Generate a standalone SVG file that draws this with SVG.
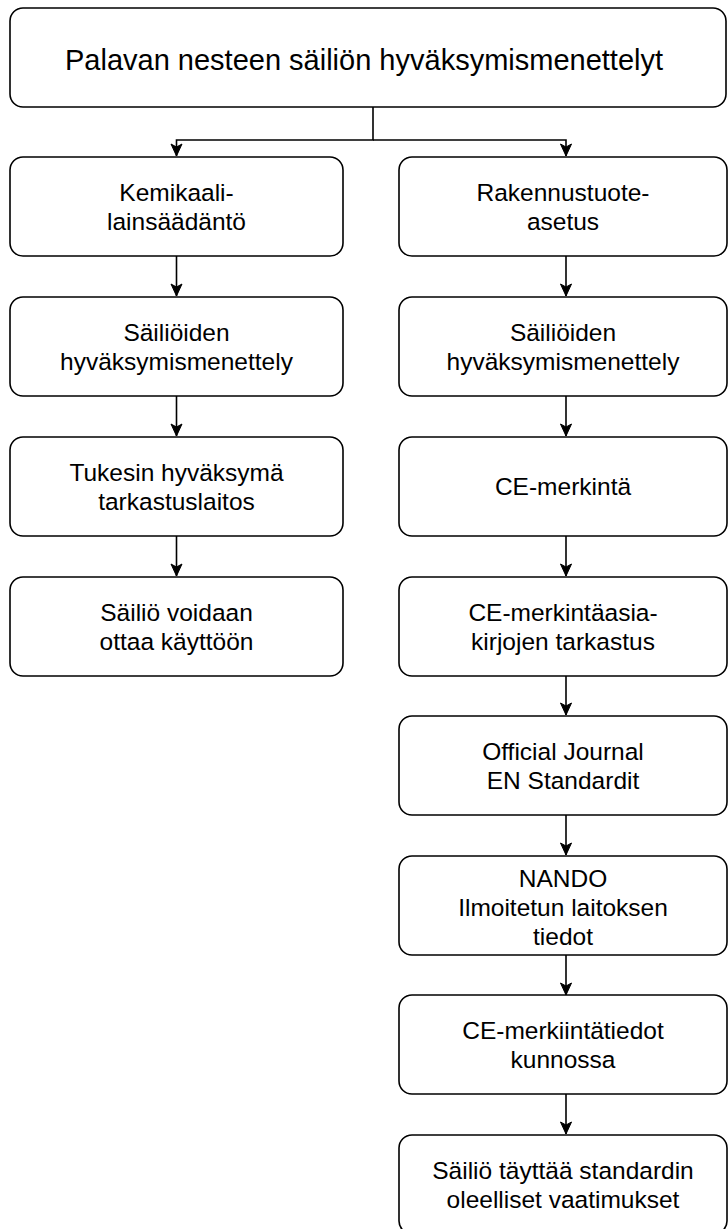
<svg xmlns="http://www.w3.org/2000/svg" width="728" height="1229" viewBox="0 0 728 1229">
<style>
.box{fill:#fff;stroke:#000;stroke-width:1.6}
.t{font-family:"Liberation Sans",Arial,sans-serif;font-size:24.5px;fill:#000;text-anchor:middle}
.title{font-size:29px}
.c{fill:none;stroke:#000;stroke-width:1.6}
</style>
<defs>
<marker id="ah" markerWidth="14" markerHeight="14" viewBox="0 0 14 14" refX="13" refY="7" orient="auto" markerUnits="userSpaceOnUse">
<path d="M1,1.5 L13,7 L1,12.5 L4,7 Z" fill="#000" stroke="#000" stroke-width="1"/>
</marker>
</defs>
<rect width="728" height="1229" fill="#fff"/>
<g id="connectors">
<path class="c" d="M373,107 V140 H176.5 V156" marker-end="url(#ah)"/>
<path class="c" d="M373,140 H566 V156" marker-end="url(#ah)"/>
<path class="c" d="M176.5,256 V296" marker-end="url(#ah)"/>
<path class="c" d="M176.5,396 V436" marker-end="url(#ah)"/>
<path class="c" d="M176.5,536 V576" marker-end="url(#ah)"/>
<path class="c" d="M566,256 V296" marker-end="url(#ah)"/>
<path class="c" d="M566,396 V436" marker-end="url(#ah)"/>
<path class="c" d="M566,536 V576" marker-end="url(#ah)"/>
<path class="c" d="M566,676 V715" marker-end="url(#ah)"/>
<path class="c" d="M566,815 V855" marker-end="url(#ah)"/>
<path class="c" d="M566,955 V995" marker-end="url(#ah)"/>
<path class="c" d="M566,1094 V1134" marker-end="url(#ah)"/>
</g>
<g id="n0"><rect class="box" x="10" y="8" width="716" height="99" rx="13"/><text class="t title" x="364" y="70">Palavan nesteen säiliön hyväksymismenettelyt</text></g>
<g id="l1"><rect class="box" x="10" y="157" width="333" height="99" rx="13"/><text class="t" x="176.5" y="201">Kemikaali-</text><text class="t" x="176.5" y="230">lainsäädäntö</text></g>
<g id="l2"><rect class="box" x="10" y="297" width="333" height="99" rx="13"/><text class="t" x="176.5" y="341">Säiliöiden</text><text class="t" x="176.5" y="370">hyväksymismenettely</text></g>
<g id="l3"><rect class="box" x="10" y="437" width="333" height="99" rx="13"/><text class="t" x="176.5" y="481">Tukesin hyväksymä</text><text class="t" x="176.5" y="510">tarkastuslaitos</text></g>
<g id="l4"><rect class="box" x="10" y="577" width="333" height="99" rx="13"/><text class="t" x="176.5" y="621">Säiliö voidaan</text><text class="t" x="176.5" y="650">ottaa käyttöön</text></g>
<g id="r1"><rect class="box" x="399" y="157" width="328" height="99" rx="13"/><text class="t" x="563" y="201">Rakennustuote-</text><text class="t" x="563" y="230">asetus</text></g>
<g id="r2"><rect class="box" x="399" y="297" width="328" height="99" rx="13"/><text class="t" x="563" y="341">Säiliöiden</text><text class="t" x="563" y="370">hyväksymismenettely</text></g>
<g id="r3"><rect class="box" x="399" y="437" width="328" height="99" rx="13"/><text class="t" x="563" y="495">CE-merkintä</text></g>
<g id="r4"><rect class="box" x="399" y="577" width="328" height="99" rx="13"/><text class="t" x="563" y="621">CE-merkintäasia-</text><text class="t" x="563" y="650">kirjojen tarkastus</text></g>
<g id="r5"><rect class="box" x="399" y="716" width="328" height="99" rx="13"/><text class="t" x="563" y="760">Official Journal</text><text class="t" x="563" y="789">EN Standardit</text></g>
<g id="r6"><rect class="box" x="399" y="856" width="328" height="99" rx="13"/><text class="t" x="563" y="887">NANDO</text><text class="t" x="563" y="916">Ilmoitetun laitoksen</text><text class="t" x="563" y="945">tiedot</text></g>
<g id="r7"><rect class="box" x="399" y="995" width="328" height="99" rx="13"/><text class="t" x="563" y="1039">CE-merkiintätiedot</text><text class="t" x="563" y="1068">kunnossa</text></g>
<g id="r8"><rect class="box" x="399" y="1135" width="328" height="99" rx="13"/><text class="t" x="563" y="1179">Säiliö täyttää standardin</text><text class="t" x="563" y="1208">oleelliset vaatimukset</text></g>
</svg>
